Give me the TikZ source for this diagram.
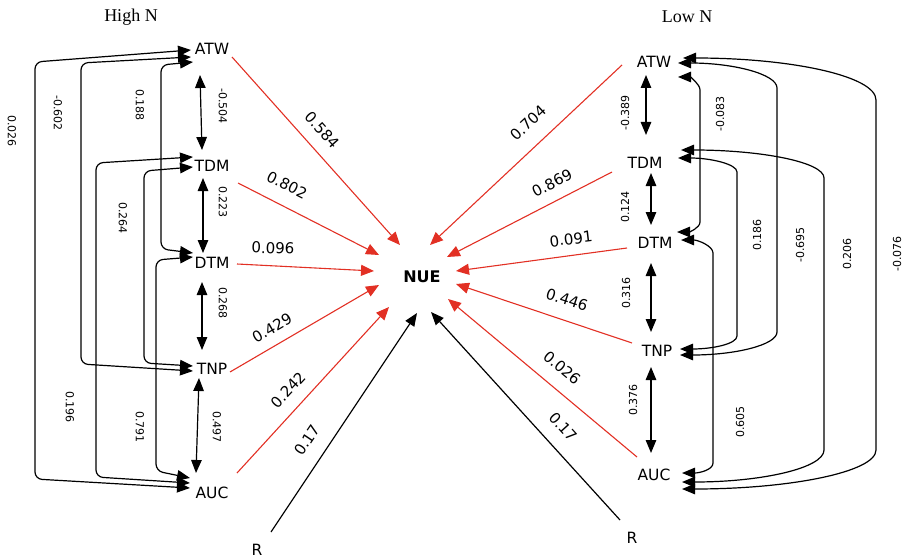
\documentclass[tikz,border=0pt]{standalone}
\usepackage{fontspec}
\setmainfont{DejaVu Sans}
\newfontfamily\serifttl{Liberation Serif}
\usetikzlibrary{arrows.meta,calc}
\definecolor{edgered}{RGB}{226,48,36}
\begin{document}
\begin{tikzpicture}[x=1pt,y=-1pt,
  var/.style={inner sep=0pt, font=\fontsize{15.5}{16}\selectfont},
  hub/.style={inner sep=0pt, font=\fontsize{16}{16}\selectfont\bfseries},
  ttl/.style={inner sep=0pt, font=\serifttl\fontsize{18}{18}\selectfont},
  tipb/.tip={Triangle[length=13pt,width=10.5pt]},
  blkarr/.style={line width=1.2pt, -tipb},
  both/.style={line width=1.2pt, tipb-tipb},
  redarr/.style={edgered, line width=1.1pt, -{Triangle[length=13pt,width=11pt]}},
  elab/.style={inner sep=0pt, font=\fontsize{15}{15}\selectfont},
  slab/.style={inner sep=0pt, font=\fontsize{11}{11}\selectfont},
  lc/.style={rounded corners=7pt},
]
\useasboundingbox (0,0) rectangle (910,559);

% titles
\node[ttl] (tHigh) at (131,17) {High N};
\node[ttl] (tLow) at (687,17) {Low N};

% nodes
\node[hub] (NUE) at (422,277) {NUE};
\node[var] (lATW) at (212,49) {ATW};
\node[var] (lTDM) at (212,166) {TDM};
\node[var] (lDTM) at (212,263) {DTM};
\node[var] (lTNP) at (212,369) {TNP};
\node[var] (lAUC) at (212,493) {AUC};
\node[var] (lR) at (257,550) {R};
\node[var] (rATW) at (654,62) {ATW};
\node[var] (rTDM) at (645,163) {TDM};
\node[var] (rDTM) at (655,243) {DTM};
\node[var] (rTNP) at (657,351) {TNP};
\node[var] (rAUC) at (654,475) {AUC};
\node[var] (rR) at (632,538) {R};

% ---------- left: adjacent double arrows
\draw[both] ($(lATW)+(-12,26)$) -- ($(lTDM)+(-10,-16)$);
\draw[both] ($(lTDM)+(-9,12)$) -- ($(lDTM)+(-9,-10)$);
\draw[both] ($(lDTM)+(-10,19)$) -- ($(lTNP)+(-10,-19)$);
\draw[both] ($(lTNP)+(-13,9)$) -- ($(lAUC)+(-16,-20)$);
\node[slab,rotate=-90] at (223,106) {-0.504};
\node[slab,rotate=-90] at (223,202) {0.223};
\node[slab,rotate=-90] at (223,303) {0.268};
\node[slab,rotate=-90] at (217,427) {0.497};

% ---------- left: long correlations
\draw[both,lc] ($(lATW)+(-21,1)$) -- (35,62) -- (35,479) -- ($(lAUC)+(-22,-5)$);
\draw[both,lc] ($(lATW)+(-21,8)$) -- (81,63) -- (81,364) -- ($(lTNP)+(-19,2)$);
\draw[both,lc] ($(lATW)+(-19,13)$) -- (161,65) -- (161,249) -- ($(lDTM)+(-19,-10)$);
\draw[both,lc] ($(lTDM)+(-19,-9)$) -- (96,163) -- (96,477) -- ($(lAUC)+(-22,-10)$);
\draw[both,lc] ($(lTDM)+(-19,1)$) -- (144,171) -- (144,363) -- ($(lTNP)+(-19,-3)$);
\draw[both,lc] ($(lDTM)+(-19,-6)$) -- (156,260) -- (156,471) -- ($(lAUC)+(-22,-15)$);
\node[slab,rotate=-90] at (12,131) {0.026};
\node[slab,rotate=-90] at (58,113) {-0.602};
\node[slab,rotate=-90] at (140,105) {0.188};
\node[slab,rotate=-90] at (123,218) {0.264};
\node[slab,rotate=-90] at (70,407) {0.196};
\node[slab,rotate=-90] at (140,427) {0.791};

% ---------- right: adjacent double arrows
\draw[both] ($(rATW)+(-8,13)$) -- ($(rTDM)+(1,-28)$);
\draw[both] ($(rTDM)+(6,10)$) -- ($(rDTM)+(-4,-18)$);
\draw[both] ($(rDTM)+(-4,20)$) -- ($(rTNP)+(-6,-19)$);
\draw[both] ($(rTNP)+(-6,16)$) -- ($(rAUC)+(-3,-22)$);
\node[slab,rotate=90] at (625,113) {-0.389};
\node[slab,rotate=90] at (625,207) {0.124};
\node[slab,rotate=90] at (626,293) {0.316};
\node[slab,rotate=90] at (633,400) {0.376};

% ---------- right: long correlations
\draw[both] ($(rATW)+(24,15)$) to[out=0,in=90,out distance=12,in distance=6] (700,90) -- (700,222) to[out=-90,in=0,out distance=6,in distance=12] ($(rDTM)+(22,-11)$);
\draw[both] ($(rDTM)+(26,-3)$) to[out=0,in=90,out distance=17,in distance=7] (713,253) -- (713,463) to[out=-90,in=0,out distance=7,in distance=17] ($(rAUC)+(28,-2)$);
\draw[both] ($(rTDM)+(33,-5)$) to[out=0,in=90,out distance=32,in distance=8] (737,172) -- (737,336) to[out=-90,in=0,out distance=8,in distance=32] ($(rTNP)+(23,-2)$);
\draw[both] ($(rATW)+(24,1)$) to[out=0,in=90,out distance=55,in distance=14] (777,88) -- (777,332) to[out=-90,in=0,out distance=13,in distance=55] ($(rTNP)+(23,4)$);
\draw[both] ($(rTDM)+(36,-13)$) to[out=0,in=90,out distance=80,in distance=16] (824,178) -- (824,450) to[out=-90,in=0,out distance=18,in distance=80] ($(rAUC)+(28,7)$);
\draw[both] ($(rATW)+(29,-4)$) to[out=0,in=90,out distance=108,in distance=24] (876,100) -- (876,450) to[out=-90,in=0,out distance=22,in distance=108] ($(rAUC)+(28,14)$);
\node[slab,rotate=90] at (720,114) {-0.083};
\node[slab,rotate=90] at (740,422) {0.605};
\node[slab,rotate=90] at (757,235) {0.186};
\node[slab,rotate=90] at (800,245) {-0.695};
\node[slab,rotate=90] at (847,254) {0.206};
\node[slab,rotate=90] at (897,254) {-0.076};

% ---------- paths to NUE (left)
\draw[redarr] ($(lATW)+(20,8)$) -- ($(NUE)+(-22,-32)$);
\draw[redarr] ($(lTDM)+(26,17)$) -- ($(NUE)+(-43,-22)$);
\draw[redarr] ($(lDTM)+(25,1)$) -- ($(NUE)+(-48,-6)$);
\draw[redarr] ($(lTNP)+(18,3)$) -- ($(NUE)+(-43,8)$);
\draw[redarr] ($(lAUC)+(25,-20)$) -- ($(NUE)+(-33,30)$);
\draw[blkarr] ($(lR)+(14,-18)$) -- ($(NUE)+(-5,36)$);
\node[elab,rotate=-48] at (322,130) {0.584};
\node[elab,rotate=-27] at (287,185) {0.802};
\node[elab,rotate=-2] at (273,248) {0.096};
\node[elab,rotate=30] at (272,328) {0.429};
\node[elab,rotate=47] at (288,390) {0.242};
\node[elab,rotate=56] at (307,440) {0.17};

% ---------- paths to NUE (right)
\draw[redarr] ($(rATW)+(-32,3)$) -- ($(NUE)+(8,-32)$);
\draw[redarr] ($(rTDM)+(-33,9)$) -- ($(NUE)+(25,-20)$);
\draw[redarr] ($(rDTM)+(-28,5)$) -- ($(NUE)+(34,-6)$);
\draw[redarr] ($(rTNP)+(-25,-8)$) -- ($(NUE)+(34,7)$);
\draw[redarr] ($(rAUC)+(-17,-18)$) -- ($(NUE)+(26,22)$);
\draw[blkarr] ($(rR)+(-12,-18)$) -- ($(NUE)+(9,35)$);
\node[elab,rotate=43] at (528,123) {0.704};
\node[elab,rotate=27] at (552,183) {0.869};
\node[elab,rotate=7] at (571,239) {0.091};
\node[elab,rotate=-18] at (567,300) {0.446};
\node[elab,rotate=-40] at (562,368) {0.026};
\node[elab,rotate=-48] at (563,427) {0.17};
\end{tikzpicture}
\end{document}
